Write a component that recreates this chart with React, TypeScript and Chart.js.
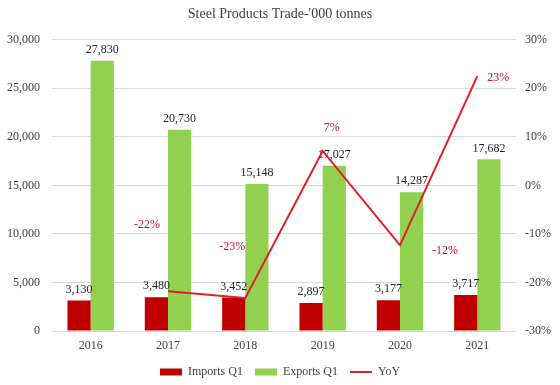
import React, { useEffect, useRef } from "react";
import { Chart, registerables } from "chart.js";

Chart.register(...registerables);

const years = ["2016", "2017", "2018", "2019", "2020", "2021"];
const importsQ1 = [3130, 3480, 3452, 2897, 3177, 3717];
const exportsQ1 = [27830, 20730, 15148, 17027, 14287, 17682];
const yoy = [null, -21.8, -23.2, 7.1, -12.3, 22.5];
const leftTicks = { min: 0, max: 30000, step: 5000 };
const rightTicks = { min: -30, max: 30, step: 10 };

// label placement (style only), pixel offsets from each YoY point
const yoyLabelOffsets = [
  [0, 0],
  [-21, -66],
  [-13, -51],
  [9, -23],
  [45, 6],
  [21, 2],
];

const FONT = "'Liberation Serif', 'Times New Roman', serif";
const RED = "#c00000";
const GREEN = "#92d050";
const LINE = "#e0202a";

const labelsPlugin = {
  id: "valueLabels",
  afterDatasetDraw(chart: any, args: any) {
    const ds = chart.data.datasets[args.index];
    if (ds.type === "line") return;
    const ctx = chart.ctx;
    ctx.save();
    ctx.font = `12px ${FONT}`;
    ctx.fillStyle = "#262626";
    ctx.textAlign = "center";
    ctx.textBaseline = "bottom";
    args.meta.data.forEach((el: any, i: number) => {
      const v = ds.data[i];
      ctx.fillText(v.toLocaleString("en-US"), el.x, el.y - 5);
    });
    ctx.restore();
  },
  afterDatasetsDraw(chart: any) {
    const idx = chart.data.datasets.findIndex((d: any) => d.type === "line");
    const meta = chart.getDatasetMeta(idx);
    const ctx = chart.ctx;
    ctx.save();
    ctx.font = `12px ${FONT}`;
    ctx.fillStyle = "#c8102e";
    ctx.textAlign = "center";
    ctx.textBaseline = "middle";
    meta.data.forEach((el: any, i: number) => {
      const v = chart.data.datasets[idx].data[i];
      if (v === null || v === undefined) return;
      const [dx, dy] = yoyLabelOffsets[i];
      ctx.fillText(`${Math.round(v)}%`, el.x + dx, el.y + dy);
    });
    ctx.restore();
  },
};

export default function App() {
  const ref = useRef<HTMLCanvasElement>(null);
  useEffect(() => {
    document.body.style.margin = "0";
    const chart = new Chart(ref.current!, {
      type: "bar",
      data: {
        labels: years,
        datasets: [
          {
            type: "bar",
            label: "Imports Q1",
            data: importsQ1,
            backgroundColor: RED,
            borderWidth: 0,
            yAxisID: "y",
            order: 1,
            pointStyle: "rect",
            categoryPercentage: 0.6,
            barPercentage: 1,
          } as any,
          {
            type: "bar",
            label: "Exports Q1",
            data: exportsQ1,
            backgroundColor: GREEN,
            borderWidth: 0,
            yAxisID: "y",
            order: 1,
            pointStyle: "rect",
            categoryPercentage: 0.6,
            barPercentage: 1,
          } as any,
          {
            type: "line",
            label: "YoY",
            data: yoy,
            borderColor: LINE,
            backgroundColor: LINE,
            borderWidth: 2,
            pointRadius: 0,
            pointStyle: "line",
            yAxisID: "y1",
            order: 0,
            spanGaps: false,
          } as any,
        ],
      },
      options: {
        animation: false,
        responsive: false,
        layout: { padding: { left: 0, right: 0, top: 0, bottom: -3 } },
        plugins: {
          title: {
            display: true,
            text: "Steel Products Trade-'000 tonnes",
            color: "#404040",
            font: { family: FONT, size: 14, weight: "normal" },
            padding: { top: 6, bottom: 17 },
          },
          legend: {
            position: "bottom",
            labels: {
              usePointStyle: true,
              pointStyleWidth: 22,
              boxHeight: 7,
              color: "#404040",
              padding: 12,
              font: { family: FONT, size: 12 },
              sort: (a: any, b: any) => a.datasetIndex - b.datasetIndex,
            },
          },
          tooltip: { enabled: false },
        },
        scales: {
          x: {
            grid: { display: false, drawTicks: false },
            border: { display: false },
            ticks: { color: "#404040", padding: 8, font: { family: FONT, size: 12 } },
            afterFit: (s: any) => {
              s.height = 23;
            },
          },
          y: {
            position: "left",
            min: leftTicks.min,
            max: leftTicks.max,
            grid: { color: "#d9d9d9", drawTicks: false },
            border: { display: false },
            ticks: {
              stepSize: leftTicks.step,
              color: "#404040",
              padding: 12,
              font: { family: FONT, size: 12 },
              callback: (v: any) => Number(v).toLocaleString("en-US"),
            },
            afterFit: (s: any) => {
              s.width = 52;
            },
          },
          y1: {
            position: "right",
            min: rightTicks.min,
            max: rightTicks.max,
            grid: { display: false, drawTicks: false },
            border: { display: false },
            ticks: {
              stepSize: rightTicks.step,
              color: "#404040",
              padding: 9,
              font: { family: FONT, size: 12 },
              callback: (v: any) => `${v}%`,
            },
            afterFit: (s: any) => {
              s.width = 44;
            },
          },
        },
      },
      plugins: [labelsPlugin],
    } as any);
    return () => chart.destroy();
  }, []);
  return (
    <div style={{ width: 560, height: 385, background: "#fff" }}>
      <canvas ref={ref} width={560} height={385} />
    </div>
  );
}
